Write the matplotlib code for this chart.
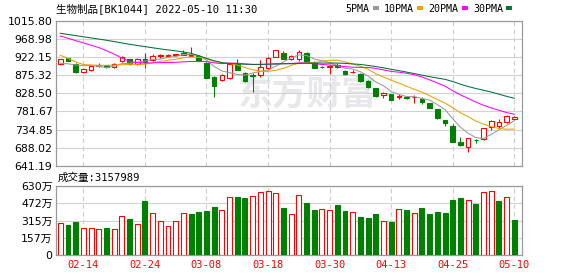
import matplotlib
matplotlib.use("Agg")
import matplotlib.pyplot as plt
from matplotlib.patches import Patch
import numpy as np

# ---------------- data ----------------
dates = ["02-09", "02-10", "02-11", "02-14", "02-15", "02-16", "02-17", "02-18", "02-21", "02-22",
         "02-23", "02-24", "02-25", "02-28", "03-01", "03-02", "03-03", "03-04", "03-07", "03-08",
         "03-09", "03-10", "03-11", "03-14", "03-15", "03-16", "03-17", "03-18", "03-21", "03-22",
         "03-23", "03-24", "03-25", "03-28", "03-29", "03-30", "03-31", "04-01", "04-06", "04-07",
         "04-08", "04-11", "04-12", "04-13", "04-14", "04-15", "04-18", "04-19", "04-20", "04-21",
         "04-22", "04-25", "04-26", "04-27", "04-28", "04-29", "05-05", "05-06", "05-09", "05-10"]

opens = [905, 919, 904, 883, 890, 900, 902, 896, 912, 916.5,
         904.5, 916.5, 915, 924, 926, 927, 929, 925, 926, 908,
         871.7, 863, 867, 905, 880, 876, 876, 895, 923, 933.8,
         917, 916.5, 932, 906, 898, 896, 903, 887, 883, 878.5,
         861, 842, 823, 826, 820, 820, 818, 815, 803, 787,
         759, 744, 702, 689, 709, 710, 741, 743, 755, 761]
closes = [916.5, 913, 884.5, 891, 900, 903, 896.5, 904, 923.5, 904.5,
          918, 910.5, 925, 927, 928, 930, 934, 926.5, 913, 869,
          848, 876, 904, 890, 861, 874, 897, 921, 940.5, 918.5,
          924, 936.5, 913, 895, 896, 900, 898, 878, 885, 861,
          844, 822, 828.5, 812, 822, 817, 820, 805, 791, 764,
          751, 703, 696, 712, 708, 738, 758, 754, 770.5, 767]
highs = [918, 921, 906, 893, 902, 908, 903, 906, 925, 918,
         920, 932, 929.5, 930, 931, 931, 941, 948.5, 928, 910.5,
         874, 878, 906, 918, 884, 880, 916, 923, 942, 937,
         927, 942, 936, 912, 900, 903, 907, 889, 888, 880,
         862, 843, 833, 828, 826, 822, 823, 819, 804, 788,
         760, 748, 715, 713, 710, 739, 760, 762, 772, 769]
lows = [903, 911, 882, 881, 886, 898, 895, 894, 910, 903,
        903, 895, 913, 919, 925, 924, 928, 925, 912, 867,
        820, 861, 865, 889, 859, 832, 872, 892, 922, 917,
        914, 912, 911, 894, 893, 878, 895, 876, 880, 859,
        842, 820, 817, 810, 813, 815, 803, 801, 790, 763,
        745, 702, 693, 676, 700, 709, 733, 736, 753, 759]
prev_close = 906

# volume in units of 10^4 (万)
volumes = [295, 274, 301, 246, 246, 237, 249, 237, 356, 328,
           283, 496, 383, 310, 265, 310, 383, 377, 395, 404,
           438, 411, 529, 532, 523, 538, 575, 584, 566, 432,
           377, 548, 475, 411, 417, 411, 456, 402, 390, 347,
           338, 377, 307, 301, 417, 411, 380, 429, 377, 393,
           383, 502, 520, 502, 466, 575, 584, 493, 529, 315.8]
last_volume = 3157989

ma5 = [906.0, 905.0, 902.0, 900.0, 901.0, 898.3, 895.0, 898.9, 905.4, 906.3,
       909.3, 912.1, 916.3, 917.0, 921.7, 924.1, 928.8, 929.1, 926.3, 914.5,
       898.1, 886.5, 882.0, 877.4, 875.8, 881.0, 885.2, 888.6, 898.7, 910.2,
       920.2, 928.1, 926.5, 917.4, 912.9, 908.1, 900.4, 893.4, 891.4, 884.4,
       873.2, 858.0, 848.1, 833.5, 825.7, 820.3, 819.9, 815.2, 811.0, 799.4,
       786.2, 762.8, 741.0, 725.2, 714.0, 711.4, 722.4, 734.0, 745.7, 757.5]
ma10 = [927, 919, 910, 903, 902, 901, 901, 901.5, 902.5, 903.7,
        903.8, 903.6, 907.6, 911.2, 914.0, 916.7, 920.5, 922.7, 921.7, 918.1,
        911.1, 907.7, 905.6, 901.9, 895.2, 889.6, 885.9, 885.3, 888.1, 893.0,
        900.6, 906.7, 907.6, 908.1, 911.6, 914.2, 914.3, 910.0, 904.4, 898.7,
        890.7, 879.2, 870.8, 862.5, 855.1, 846.8, 839.0, 831.7, 822.3, 812.6,
        803.3, 791.4, 778.1, 768.1, 756.7, 748.8, 742.6, 737.5, 735.5, 735.8]
ma20 = [977, 971, 965, 959, 953, 947, 939, 930, 920, 911,
        908, 907, 907.5, 908, 908.5, 909, 910, 911, 911, 910.9,
        907.5, 905.6, 906.6, 906.5, 904.6, 903.1, 903.2, 904.0, 904.9, 905.6,
        905.9, 907.2, 906.6, 905.0, 903.4, 901.9, 900.1, 897.6, 896.2, 895.8,
        895.6, 892.9, 889.2, 885.3, 883.3, 880.5, 876.6, 870.8, 863.3, 855.6,
        847.0, 835.3, 824.4, 815.3, 805.9, 797.8, 790.8, 784.6, 778.9, 774.2]
ma30 = [984, 981, 978, 975, 972, 969, 966, 962.5, 959, 955.5,
        952.5, 949.5, 946.5, 943.5, 941, 938.5, 935.5, 932, 926, 919,
        913, 908, 906, 905, 904, 903.5, 903.5, 904, 904.5, 904.9,
        905.2, 906.0, 906.9, 907.0, 906.9, 906.8, 906.9, 906.0, 904.7, 903.3,
        900.8, 897.8, 894.6, 890.8, 887.3, 883.5, 879.7, 875.6, 871.6, 868.1,
        864.8, 859.1, 852.1, 846.2, 841.1, 836.6, 831.9, 826.4, 820.7, 815.7]

ma_labels = ["5PMA", "10PMA", "20PMA", "30PMA"]
price_ticks = [641.19, 688.02, 734.85, 781.67, 828.50, 875.32, 922.15, 968.98, 1015.80]
vol_ticks = [0, 157.5, 315, 472.5, 630]
vol_tick_labels = ["0", "157万", "315万", "472万", "630万"]
date_ticks = ["02-14", "02-24", "03-08", "03-18", "03-30", "04-13", "04-25", "05-10"]
title = "生物制品[BK1044] 2022-05-10 11:30"

# ---------------- style ----------------
RED = "#ff0000"
GREEN = "#008000"
MA_COLORS = ["#999999", "#f0a000", "#ff00ff", "#00703c"]
FRAME = "#9a9a9a"
HGRID = "#d2d2d2"
VGRID = "#cccccc"
MONO = ["DejaVu Sans Mono", "Noto Sans CJK SC"]
SANS = ["DejaVu Sans", "Noto Sans CJK SC"]

W, H = 578, 276
fig = plt.figure(figsize=(W / 100, H / 100), dpi=100)
fig.patch.set_facecolor("white")


def rect(l, t, r, b):
    return [l / W, 1 - b / H, (r - l) / W, (b - t) / H]


ax = fig.add_axes(rect(55.5, 21, 522.3, 165.7))
axv = fig.add_axes(rect(55.5, 186, 522.3, 255))

x = np.arange(len(dates))
o = np.array(opens, float)
c = np.array(closes, float)
hi = np.array(highs, float)
lo = np.array(lows, float)
up = c >= o
cc = [RED if u else GREEN for u in up]
face = ["white" if u else GREEN for u in up]

tick_pos = [dates.index(d) for d in date_ticks]

for a in (ax, axv):
    a.set_xlim(-0.62, 60.04)
    a.set_axisbelow(True)
    for s in a.spines.values():
        s.set_color(FRAME)
        s.set_linewidth(0.9)
    a.tick_params(length=0)
    a.set_xticks(tick_pos)
    a.xaxis.grid(True, color=VGRID, linestyle=(0, (4, 3)), linewidth=0.8)
    a.yaxis.grid(True, color=HGRID, linestyle="-", linewidth=0.8)

# watermark
ax.text(0.54, 0.49, "东方财富", transform=ax.transAxes, ha="center", va="center",
        fontsize=25, fontweight="bold", color="#e8e8ec", family=SANS, zorder=0.1)

# candles
ax.vlines(x, lo, hi, colors=cc, linewidth=0.8, zorder=2)
bottoms = np.minimum(o, c)
heights = np.maximum(np.abs(c - o), 0.4)
ax.bar(x, heights, bottom=bottoms, width=0.6, color=face, edgecolor=cc,
       linewidth=0.8, zorder=3)

for vals, col in zip([ma5, ma10, ma20, ma30], MA_COLORS):
    ax.plot(x, vals, color=col, linewidth=0.75, zorder=4)

ax.set_ylim(price_ticks[0], price_ticks[-1])
ax.set_yticks(price_ticks, [f"{v:.2f}" for v in price_ticks])
ax.set_xticklabels([])
ax.tick_params(axis="y", pad=2.2, labelsize=7.8, labelcolor="#000000")
for t in ax.get_yticklabels():
    t.set_family(SANS)

# volume
prev = np.concatenate([[prev_close], c[:-1]])
vup = c >= prev
vcol = [RED if u else GREEN for u in vup]
vface = ["white" if u else GREEN for u in vup]
axv.bar(x, volumes, width=0.64, color=vface, edgecolor=vcol, linewidth=0.8, zorder=3)
axv.set_ylim(vol_ticks[0], vol_ticks[-1])
axv.set_yticks(vol_ticks, vol_tick_labels)
axv.set_xticklabels(date_ticks)
axv.tick_params(axis="y", pad=2.2, labelsize=7.8, labelcolor="#000000")
axv.tick_params(axis="x", pad=3.5, labelsize=7.5, labelcolor=RED)
for t in axv.get_yticklabels():
    t.set_family(SANS)
for t in axv.get_xticklabels():
    t.set_family(MONO)

# texts
fig.text(56 / W, 1 - 8.5 / H, title, ha="left", va="center", fontsize=7.6,
         family=MONO, color="#000000")
fig.text(58 / W, 1 - 177.7 / H, f"成交量:{last_volume}", ha="left", va="center",
         fontsize=7.6, family=MONO, color="#000000")

handles = [Patch(facecolor=col, edgecolor="none") for col in MA_COLORS]
fig.legend(handles, ma_labels, ncol=4, markerfirst=False, frameon=False,
           loc="center right", bbox_to_anchor=(512 / W, 1 - 8.5 / H),
           bbox_transform=fig.transFigure, handlelength=0.6, handleheight=0.35,
           handletextpad=0.3, columnspacing=0.55, borderpad=0, borderaxespad=0,
           prop={"family": MONO, "size": 7.2})

fig.savefig("out.png", dpi=100, facecolor="white")
